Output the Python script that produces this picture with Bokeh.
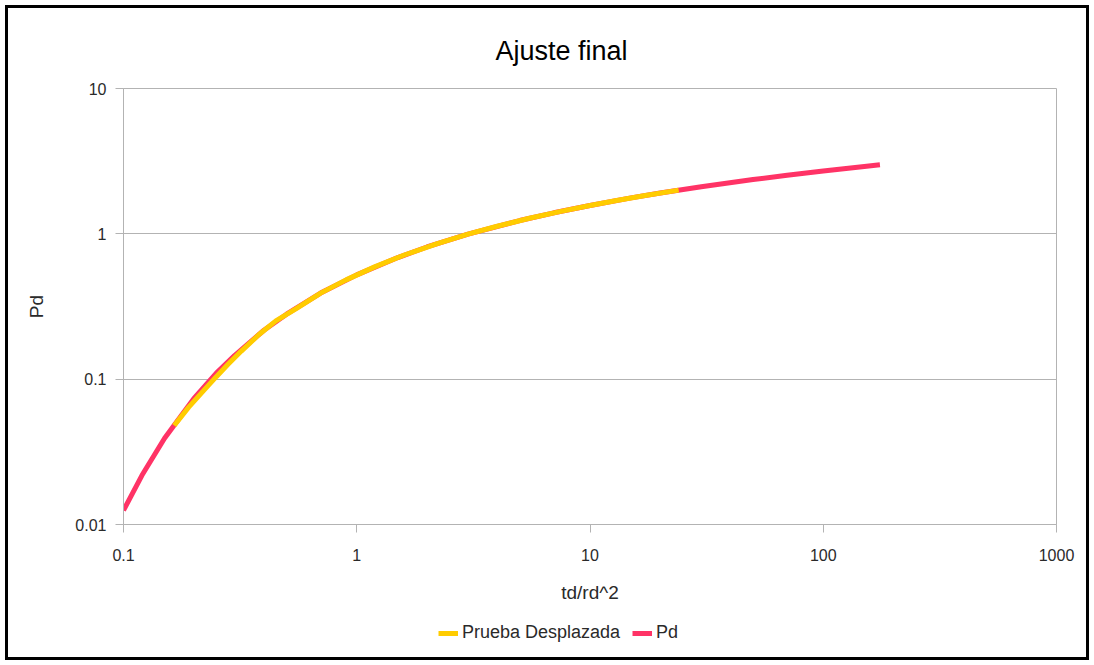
from bokeh.plotting import figure
from bokeh.layouts import column
from bokeh.models import Legend, LegendItem, FixedTicker, Range1d
from bokeh.embed import file_html
from bokeh.resources import INLINE

# Pd curve (type curve)
td_pd = [0.1, 0.12, 0.15, 0.2, 0.25, 0.3, 0.4, 0.5, 0.7, 1, 1.5, 2, 3, 5, 7,
         10, 15, 20, 30, 50, 70, 100, 150, 175]
pd_vals = [0.0125, 0.0218, 0.0392, 0.0734, 0.110, 0.146, 0.217, 0.280, 0.391,
           0.522, 0.687, 0.812, 0.995, 1.234, 1.395, 1.568, 1.767, 1.909,
           2.109, 2.363, 2.531, 2.708, 2.911, 2.988]

# Shifted test data ("Prueba Desplazada")
td_test = [0.165, 0.19, 0.22, 0.25, 0.28, 0.32, 0.38, 0.45, 0.55, 0.7, 0.9,
           1.2, 1.6, 2.2, 3, 4, 5.5, 7.5, 10, 13, 17, 24]
pd_test = [0.048, 0.064, 0.083, 0.104, 0.126, 0.156, 0.202, 0.252, 0.306,
           0.391, 0.482, 0.595, 0.715, 0.854, 0.995, 1.128, 1.279, 1.428,
           1.568, 1.697, 1.828, 1.999]

x_ticks = [0.1, 1, 10, 100, 1000]
y_ticks = [0.01, 0.1, 1, 10]

FONT = "Liberation Sans"
GRID = "#b3b3b3"
RED = "#ff3366"
YELLOW = "#ffcc00"

p = figure(width=1078, height=602, x_axis_type="log", y_axis_type="log",
           x_range=(0.1, 1000), y_range=(0.01, 10),
           output_backend="svg", toolbar_location=None,
           min_border_left=115, min_border_right=30,
           min_border_top=80, min_border_bottom=86)

p.title.text = "Ajuste final"
p.title.text_font = FONT
p.title.text_font_size = "27px"
p.title.text_font_style = "normal"
p.title.text_color = "#000000"
p.title.align = "left"
p.title.offset = 372
p.title.standoff = 46

p.outline_line_color = GRID

for ax in (p.xaxis[0], p.yaxis[0]):
    ax.axis_line_color = GRID
    ax.major_tick_line_color = GRID
    ax.major_tick_out = 8
    ax.major_tick_in = 0
    ax.minor_tick_line_color = None
    ax.major_label_text_font = FONT
    ax.major_label_text_font_size = "16px"
    ax.major_label_text_color = "#2a2a2a"
    ax.axis_label_text_font = FONT
    ax.axis_label_text_font_size = "19px"
    ax.axis_label_text_font_style = "normal"
    ax.axis_label_text_color = "#2a2a2a"

p.xaxis.ticker = FixedTicker(ticks=x_ticks)
p.yaxis.ticker = FixedTicker(ticks=y_ticks)
p.xaxis.major_label_overrides = {t: ("%g" % t) for t in x_ticks}
p.yaxis.major_label_overrides = {t: ("%g" % t) for t in y_ticks}
p.xaxis.axis_label = "td/rd^2"
p.yaxis.axis_label = "Pd"
p.xaxis.major_label_standoff = 16
p.yaxis.major_label_standoff = 9
p.xaxis.axis_label_standoff = 18
p.yaxis.axis_label_standoff = 25

p.xgrid.grid_line_color = None
p.ygrid.grid_line_color = GRID
p.ygrid.ticker = FixedTicker(ticks=y_ticks)

p.line(td_pd, pd_vals, line_color=RED, line_width=5)
p.line(td_test, pd_test, line_color=YELLOW, line_width=5)

# legend strip below the chart (series drawn out of view, only the legend shows)
lg = figure(width=1078, height=47, x_range=Range1d(0, 1), y_range=Range1d(-2, -1),
            output_backend="svg", toolbar_location=None,
            x_axis_location=None, y_axis_location=None,
            min_border=0, min_border_left=0, min_border_right=0,
            min_border_top=0, min_border_bottom=0)
lg.outline_line_color = None
lg.xgrid.grid_line_color = None
lg.ygrid.grid_line_color = None
l_test = lg.line(td_test, pd_test, line_color=YELLOW, line_width=5)
l_pd = lg.line(td_pd, pd_vals, line_color=RED, line_width=5)

legend = Legend(items=[LegendItem(label="Prueba Desplazada", renderers=[l_test]),
                       LegendItem(label="Pd", renderers=[l_pd])],
                orientation="horizontal", location=(315, 14),
                label_text_font=FONT, label_text_font_size="18px",
                label_text_color="#2a2a2a",
                glyph_width=20, glyph_height=20, label_standoff=4,
                spacing=12, border_line_color=None,
                background_fill_alpha=0)
lg.add_layout(legend, "center")

layout = column(p, lg, spacing=0)
layout.styles = {"margin": "8px", "outline": "3px solid black"}

open("out.html", "w").write(file_html(layout, INLINE))
